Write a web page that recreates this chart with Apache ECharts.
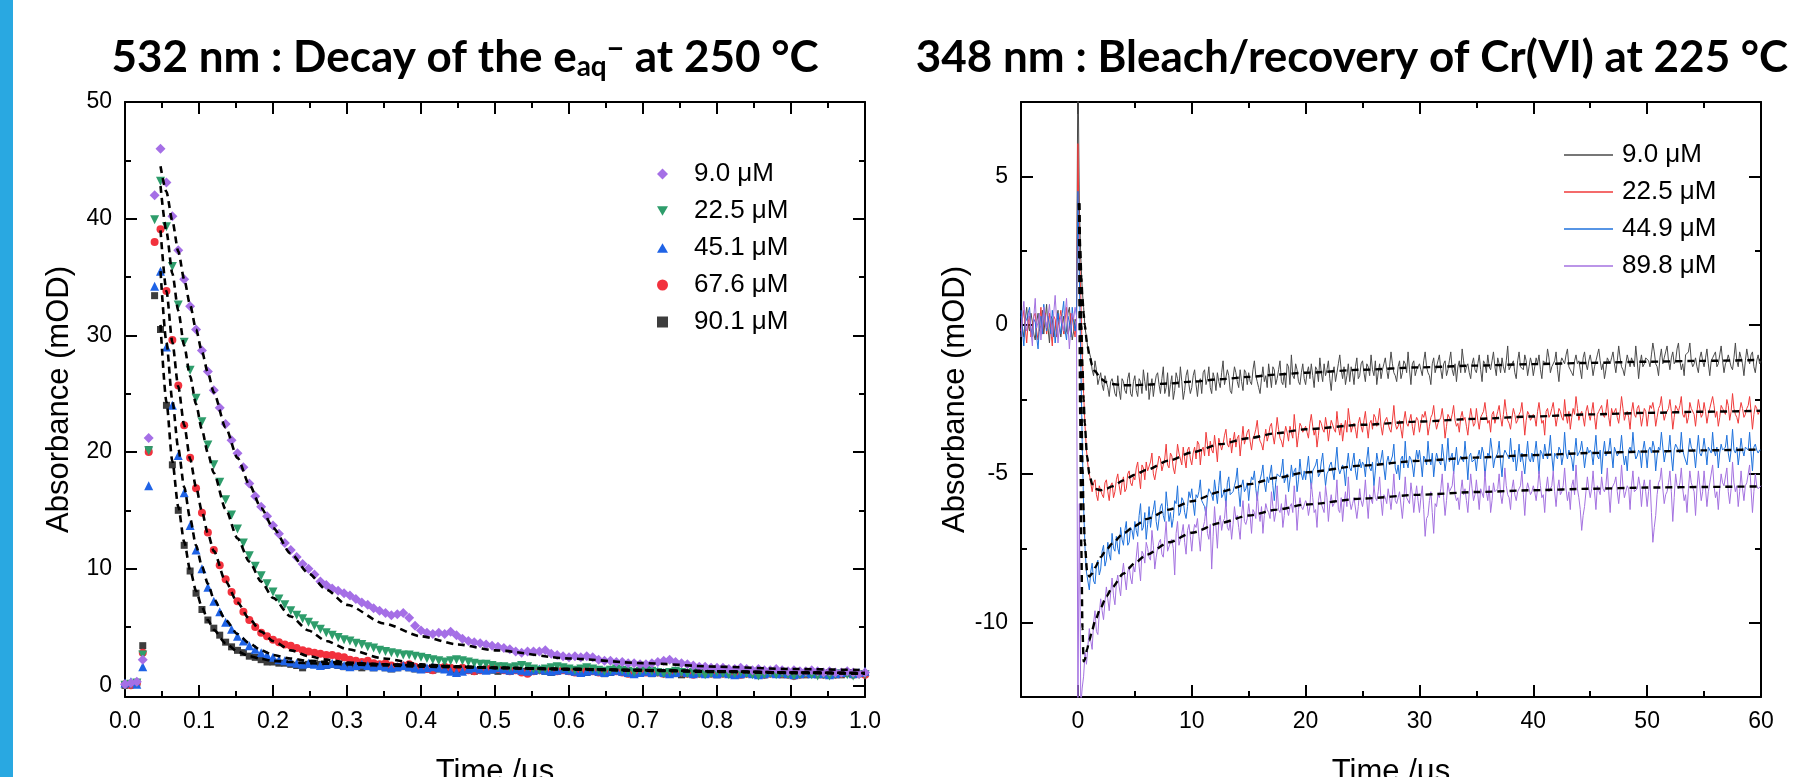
<!DOCTYPE html>
<html><head><meta charset="utf-8">
<script src="https://cdn.jsdelivr.net/npm/echarts@6/dist/echarts.min.js"></script>
<style>html,body{margin:0;padding:0;background:#fff;}#c{width:1809px;height:777px;}</style>
</head><body><div id="c"></div>
<script>
// ---------- Left panel: 532 nm decay (time in us, absorbance in mOD) ----------
const tL = [0,0.008,0.016,0.024,0.032,0.04,0.048,0.056,0.064,0.072,
0.08,0.088,0.096,0.104,0.112,0.12,0.128,0.136,0.144,0.152,
0.16,0.168,0.176,0.184,0.192,0.2,0.208,0.216,0.224,0.232,
0.24,0.248,0.256,0.264,0.272,0.28,0.288,0.296,0.304,0.312,
0.32,0.328,0.336,0.344,0.352,0.36,0.368,0.376,0.384,0.392,
0.4,0.408,0.416,0.424,0.432,0.44,0.448,0.456,0.464,0.472,
0.48,0.488,0.496,0.504,0.512,0.52,0.528,0.536,0.544,0.552,
0.56,0.568,0.576,0.584,0.592,0.6,0.608,0.616,0.624,0.632,
0.64,0.648,0.656,0.664,0.672,0.68,0.688,0.696,0.704,0.712,
0.72,0.728,0.736,0.744,0.752,0.76,0.768,0.776,0.784,0.792,
0.8,0.808,0.816,0.824,0.832,0.84,0.848,0.856,0.864,0.872,
0.88,0.888,0.896,0.904,0.912,0.92,0.928,0.936,0.944,0.952,
0.96,0.968,0.976,0.984,0.992,1.0];
const L_9_0 = [0.1,0.2,0.3,2.2,21.2,42.0,46.0,43.1,40.2,37.3,
34.8,32.5,30.5,28.7,26.9,25.3,23.8,22.4,21.0,19.9,
18.7,17.3,16.2,15.3,14.5,13.7,13.0,12.2,11.6,11.0,
10.4,10.0,9.5,8.9,8.6,8.3,8.1,7.9,7.7,7.4,
7.1,6.9,6.6,6.4,6.2,6.0,6.1,6.2,5.8,5.1,
4.7,4.5,4.4,4.5,4.4,4.6,4.3,4.0,3.8,3.7,
3.6,3.5,3.4,3.3,3.2,3.1,2.9,2.8,2.9,2.9,
2.9,3.0,2.7,2.6,2.5,2.4,2.5,2.4,2.5,2.4,
2.2,2.1,2.1,2.0,2.0,1.9,1.9,1.8,1.8,1.9,
2.0,2.1,2.2,2.0,1.9,1.8,1.7,1.6,1.6,1.5,
1.5,1.5,1.4,1.4,1.5,1.4,1.3,1.4,1.3,1.3,
1.4,1.3,1.2,1.3,1.2,1.2,1.3,1.2,1.1,1.2,
1.1,1.1,1.2,1.1,1.0,1.1];
const L_22_5 = [0.0,0.1,0.2,2.6,20.1,39.9,43.2,39.3,35.9,32.6,
29.4,27.0,24.6,22.6,20.6,18.9,17.4,15.9,14.6,13.4,
12.2,11.1,10.2,9.4,8.7,8.0,7.4,6.9,6.4,6.0,
5.7,5.4,5.1,4.8,4.5,4.3,4.1,3.9,3.8,3.6,
3.5,3.3,3.2,3.0,2.9,2.8,2.7,2.6,2.6,2.5,
2.4,2.3,2.2,2.1,2.0,2.1,2.2,2.1,2.0,1.9,
1.8,1.8,1.7,1.6,1.6,1.5,1.6,1.7,1.6,1.4,
1.3,1.4,1.5,1.6,1.5,1.4,1.3,1.4,1.5,1.4,
1.3,1.2,1.3,1.4,1.3,1.2,1.1,1.2,1.3,1.2,
1.1,1.0,1.1,1.2,1.1,1.0,1.1,1.0,0.9,1.0,
1.1,1.0,0.9,1.0,1.1,1.0,0.9,0.8,0.9,1.0,
0.9,1.0,0.9,0.8,0.9,1.0,0.9,0.8,0.9,0.8,
0.9,1.0,0.9,0.8,0.9,0.9];
const L_45_1 = [0.2,0.3,0.1,1.6,17.1,34.2,35.5,29.0,24.0,19.7,
16.5,13.7,11.6,10.0,8.4,7.2,6.3,5.4,4.8,4.2,
3.8,3.4,3.1,2.8,2.6,2.4,2.2,2.1,2.0,1.9,
1.8,1.9,1.8,1.7,1.8,1.9,1.8,1.7,1.6,1.7,
1.8,1.7,1.6,1.7,1.6,1.5,1.6,1.7,1.6,1.5,
1.4,1.5,1.6,1.5,1.4,1.2,1.1,1.2,1.4,1.5,
1.4,1.3,1.4,1.5,1.4,1.3,1.4,1.3,1.2,1.3,
1.4,1.3,1.2,1.3,1.4,1.3,1.2,1.1,1.2,1.3,
1.2,1.1,1.2,1.3,1.2,1.1,1.0,1.1,1.2,1.1,
1.2,1.1,1.0,1.1,1.2,1.1,1.0,1.1,1.0,1.1,
1.0,1.1,1.0,0.9,1.0,1.1,1.0,0.9,1.0,1.1,
1.0,1.1,1.0,0.9,1.0,1.1,1.0,1.1,1.0,0.9,
1.0,1.1,1.2,1.0,1.1,1.2];
const L_67_6 = [0.1,0.0,0.2,2.8,20.0,38.0,39.1,33.8,29.6,25.7,
22.3,19.5,16.9,14.8,13.1,11.6,10.3,9.1,8.0,7.2,
6.3,5.6,5.0,4.5,4.2,3.9,3.7,3.5,3.4,3.2,
3.0,2.9,2.8,2.7,2.6,2.6,2.5,2.4,2.2,2.1,
2.0,2.1,1.9,1.8,1.9,1.7,1.6,1.7,1.8,1.6,
1.5,1.4,1.3,1.5,1.6,1.5,1.4,1.5,1.3,1.2,
1.3,1.4,1.5,1.4,1.3,1.2,1.3,1.1,1.0,1.2,
1.3,1.4,1.3,1.2,1.3,1.2,1.1,1.2,1.3,1.2,
1.1,1.2,1.3,1.2,1.1,1.0,1.1,1.2,1.1,1.2,
1.1,1.0,1.1,1.2,1.1,1.0,0.9,1.0,1.1,1.0,
1.1,1.0,1.1,1.0,0.9,1.0,1.1,1.0,0.9,1.0,
1.1,1.0,0.9,0.8,0.9,1.0,1.1,1.0,0.9,1.0,
0.9,1.0,1.1,0.9,1.0,0.9];
const L_90_1 = [0.0,0.1,0.2,3.4,20.2,33.4,30.5,24.0,18.9,15.0,
12.0,9.8,7.9,6.5,5.6,4.9,4.3,3.7,3.3,3.0,
2.8,2.5,2.4,2.2,2.0,2.0,1.9,1.9,1.8,1.7,
1.5,1.8,1.9,1.8,1.7,1.8,1.7,1.6,1.7,1.6,
1.5,1.6,1.5,1.6,1.5,1.4,1.5,1.6,1.5,1.4,
1.5,1.4,1.3,1.4,1.5,1.4,1.3,1.4,1.3,1.2,
1.3,1.4,1.3,1.2,1.3,1.2,1.3,1.2,1.1,1.2,
1.3,1.2,1.1,1.2,1.3,1.2,1.1,1.2,1.1,1.2,
1.1,1.0,1.1,1.2,1.1,1.0,1.1,1.2,1.1,1.0,
1.1,1.0,1.1,1.0,0.9,1.0,1.1,1.0,1.1,1.0,
0.9,1.0,1.1,1.0,0.9,1.0,1.1,1.0,0.9,1.0,
1.0,0.9,1.0,1.1,1.0,0.9,1.0,0.9,1.0,1.1,
1.0,0.9,1.0,1.1,1.0,1.0];
// fitted curves (dashed)
const tFitL = [0.048,0.056,0.064,0.072,0.08,0.088,0.096,0.104,0.112,0.12,0.136,0.152,0.168,0.184,0.2,0.224,0.248,0.272,0.3,0.35,0.4,0.45,0.5,0.6,0.7,0.8,0.9,1.0];
const fitL_9_0  = [44.5,42.3,39.8,37.2,34.8,32.6,30.5,28.6,26.8,25.1,22.1,19.5,17.2,15.2,13.5,11.3,9.6,8.2,6.9,5.3,4.2,3.5,3.0,2.3,1.9,1.6,1.4,1.3];
const fitL_22_5 = [42.8,38.9,35.3,32.1,29.1,26.5,24.1,21.9,19.9,18.2,15.1,12.6,10.6,8.9,7.5,5.9,4.7,3.8,3.1,2.3,1.8,1.6,1.5,1.35,1.25,1.15,1.05,1.0];
const fitL_45_1 = [35.5,29.4,24.4,20.3,17.0,14.3,12.0,10.2,8.7,7.4,5.6,4.4,3.6,3.0,2.6,2.3,2.1,2.0,1.9,1.8,1.7,1.6,1.5,1.4,1.3,1.2,1.1,1.05];
const fitL_67_6 = [39.0,33.8,29.4,25.6,22.3,19.4,17.0,14.9,13.0,11.5,8.9,7.1,5.7,4.6,3.8,3.0,2.5,2.2,1.95,1.8,1.7,1.6,1.5,1.4,1.3,1.2,1.1,1.0];
const fitL_90_1 = [30.9,24.3,19.2,15.3,12.3,9.9,8.1,6.7,5.6,4.75,3.6,2.9,2.5,2.26,2.1,2.0,1.9,1.85,1.8,1.7,1.6,1.55,1.5,1.4,1.3,1.2,1.1,1.05];
const leftNames = ['9.0 μM','22.5 μM','45.1 μM','67.6 μM','90.1 μM'];
const leftXTicks = [0,0.1,0.2,0.3,0.4,0.5,0.6,0.7,0.8,0.9,1.0];
const leftXMinor = [0.05,0.15,0.25,0.35,0.45,0.55,0.65,0.75,0.85,0.95];
const leftYTicks = [0,10,20,30,40,50];
const leftYMinor = [5,15,25,35,45];

// ---------- Right panel: 348 nm bleach / recovery (one row = 5 us) ----------
const tR = [
-5,-4.875,-4.75,-4.625,-4.5,-4.375,-4.25,-4.125,-4,-3.875,-3.75,-3.625,-3.5,-3.375,-3.25,-3.125,-3,-2.875,-2.75,-2.625,-2.5,-2.375,-2.25,-2.125,-2,-1.875,-1.75,-1.625,-1.5,-1.375,-1.25,-1.125,-1,-0.875,-0.75,-0.625,-0.5,-0.375,-0.25,-0.125,
0,0.125,0.25,0.375,0.5,0.625,0.75,0.875,1,1.125,1.25,1.375,1.5,1.625,1.75,1.875,2,2.125,2.25,2.375,2.5,2.625,2.75,2.875,3,3.125,3.25,3.375,3.5,3.625,3.75,3.875,4,4.125,4.25,4.375,4.5,4.625,4.75,4.875,
5,5.125,5.25,5.375,5.5,5.625,5.75,5.875,6,6.125,6.25,6.375,6.5,6.625,6.75,6.875,7,7.125,7.25,7.375,7.5,7.625,7.75,7.875,8,8.125,8.25,8.375,8.5,8.625,8.75,8.875,9,9.125,9.25,9.375,9.5,9.625,9.75,9.875,
10,10.125,10.25,10.375,10.5,10.625,10.75,10.875,11,11.125,11.25,11.375,11.5,11.625,11.75,11.875,12,12.125,12.25,12.375,12.5,12.625,12.75,12.875,13,13.125,13.25,13.375,13.5,13.625,13.75,13.875,14,14.125,14.25,14.375,14.5,14.625,14.75,14.875,
15,15.125,15.25,15.375,15.5,15.625,15.75,15.875,16,16.125,16.25,16.375,16.5,16.625,16.75,16.875,17,17.125,17.25,17.375,17.5,17.625,17.75,17.875,18,18.125,18.25,18.375,18.5,18.625,18.75,18.875,19,19.125,19.25,19.375,19.5,19.625,19.75,19.875,
20,20.125,20.25,20.375,20.5,20.625,20.75,20.875,21,21.125,21.25,21.375,21.5,21.625,21.75,21.875,22,22.125,22.25,22.375,22.5,22.625,22.75,22.875,23,23.125,23.25,23.375,23.5,23.625,23.75,23.875,24,24.125,24.25,24.375,24.5,24.625,24.75,24.875,
25,25.125,25.25,25.375,25.5,25.625,25.75,25.875,26,26.125,26.25,26.375,26.5,26.625,26.75,26.875,27,27.125,27.25,27.375,27.5,27.625,27.75,27.875,28,28.125,28.25,28.375,28.5,28.625,28.75,28.875,29,29.125,29.25,29.375,29.5,29.625,29.75,29.875,
30,30.125,30.25,30.375,30.5,30.625,30.75,30.875,31,31.125,31.25,31.375,31.5,31.625,31.75,31.875,32,32.125,32.25,32.375,32.5,32.625,32.75,32.875,33,33.125,33.25,33.375,33.5,33.625,33.75,33.875,34,34.125,34.25,34.375,34.5,34.625,34.75,34.875,
35,35.125,35.25,35.375,35.5,35.625,35.75,35.875,36,36.125,36.25,36.375,36.5,36.625,36.75,36.875,37,37.125,37.25,37.375,37.5,37.625,37.75,37.875,38,38.125,38.25,38.375,38.5,38.625,38.75,38.875,39,39.125,39.25,39.375,39.5,39.625,39.75,39.875,
40,40.125,40.25,40.375,40.5,40.625,40.75,40.875,41,41.125,41.25,41.375,41.5,41.625,41.75,41.875,42,42.125,42.25,42.375,42.5,42.625,42.75,42.875,43,43.125,43.25,43.375,43.5,43.625,43.75,43.875,44,44.125,44.25,44.375,44.5,44.625,44.75,44.875,
45,45.125,45.25,45.375,45.5,45.625,45.75,45.875,46,46.125,46.25,46.375,46.5,46.625,46.75,46.875,47,47.125,47.25,47.375,47.5,47.625,47.75,47.875,48,48.125,48.25,48.375,48.5,48.625,48.75,48.875,49,49.125,49.25,49.375,49.5,49.625,49.75,49.875,
50,50.125,50.25,50.375,50.5,50.625,50.75,50.875,51,51.125,51.25,51.375,51.5,51.625,51.75,51.875,52,52.125,52.25,52.375,52.5,52.625,52.75,52.875,53,53.125,53.25,53.375,53.5,53.625,53.75,53.875,54,54.125,54.25,54.375,54.5,54.625,54.75,54.875,
55,55.125,55.25,55.375,55.5,55.625,55.75,55.875,56,56.125,56.25,56.375,56.5,56.625,56.75,56.875,57,57.125,57.25,57.375,57.5,57.625,57.75,57.875,58,58.125,58.25,58.375,58.5,58.625,58.75,58.875,59,59.125,59.25,59.375,59.5,59.625,59.75,59.875,
60];
const R_9_0 = [
0.3,-0.1,-0.4,0.2,0.6,0.0,-0.2,0.4,0.1,-0.3,-0.5,0.1,0.4,-0.2,0.0,0.5,-0.3,0.2,0.7,-0.1,-0.6,0.3,0.2,-0.4,-0.1,0.2,0.5,-0.1,-0.4,0.0,0.3,-0.3,-0.2,0.4,0.6,0.0,-0.5,-0.2,0.2,0.1,
9.0,4.0,2.3,1.2,0.6,-0.1,-0.4,-0.8,-0.9,-1.1,-1.5,-1.7,-1.2,-1.5,-2.0,-1.8,-1.6,-2.0,-2.2,-1.7,-1.7,-2.1,-2.4,-1.9,-1.8,-2.0,-2.3,-2.4,-1.7,-2.2,-2.5,-1.8,-1.9,-2.2,-2.3,-1.8,-1.6,-2.3,-2.4,-1.9,
-1.7,-2.2,-2.4,-1.8,-1.9,-2.3,-1.5,-1.9,-2.2,-1.6,-2.5,-2.1,-1.8,-2.4,-2.0,-1.7,-1.6,-2.0,-2.3,-1.8,-1.4,-2.3,-2.1,-1.6,-2.4,-2.0,-1.7,-2.5,-2.2,-1.6,-1.8,-2.1,-1.4,-1.9,-2.5,-2.2,-1.7,-1.5,-2.0,-2.3,
-2.1,-1.7,-1.5,-2.0,-2.4,-1.9,-1.8,-2.3,-1.6,-1.5,-2.0,-1.8,-1.4,-2.1,-2.3,-1.6,-1.8,-2.2,-1.6,-1.9,-2.1,-1.6,-1.2,-2.0,-2.0,-1.5,-1.7,-2.2,-2.3,-1.8,-1.4,-1.6,-1.9,-2.1,-1.5,-1.9,-2.2,-1.5,-1.6,-2.0,
-1.6,-1.9,-2.0,-1.5,-1.2,-1.7,-1.9,-2.1,-2.3,-1.8,-1.4,-1.9,-1.7,-2.1,-1.3,-1.7,-2.1,-1.4,-1.5,-2.0,-1.8,-1.5,-1.2,-1.9,-2.0,-1.6,-2.1,-1.3,-1.4,-2.0,-1.0,-1.7,-1.8,-1.3,-1.5,-1.9,-2.0,-1.6,-1.3,-1.8,
-2.0,-1.6,-1.4,-1.8,-1.3,-1.7,-2.1,-1.4,-1.5,-1.9,-1.1,-1.6,-1.9,-1.3,-1.7,-1.5,-1.2,-1.8,-2.2,-1.6,-1.4,-1.9,-1.6,-1.3,-1.0,-1.5,-1.8,-1.4,-2.0,-1.7,-1.3,-1.9,-1.4,-1.6,-2.0,-1.4,-1.1,-1.8,-1.7,-1.3,
-1.2,-1.6,-1.9,-1.3,-1.4,-1.7,-1.0,-1.5,-1.7,-1.2,-2.0,-1.6,-1.3,-1.8,-1.5,-1.3,-1.1,-1.5,-1.8,-1.4,-0.9,-1.3,-1.6,-1.7,-1.9,-1.4,-1.2,-1.8,-1.6,-1.2,-1.3,-1.6,-0.9,-1.5,-2.0,-1.3,-1.2,-1.7,-1.5,-1.4,
-1.3,-1.5,-1.7,-1.2,-0.9,-1.4,-1.6,-1.7,-2.0,-1.3,-1.1,-1.6,-1.4,-1.2,-1.0,-1.5,-1.8,-1.3,-1.2,-1.7,-1.5,-1.2,-0.9,-1.5,-1.7,-1.3,-1.9,-1.4,-1.2,-1.6,-0.8,-1.2,-1.6,-1.4,-1.3,-1.6,-1.8,-1.3,-1.1,-1.5,
-1.6,-1.3,-1.0,-1.5,-1.9,-1.2,-1.3,-1.6,-1.0,-1.4,-1.5,-1.2,-0.9,-1.4,-1.7,-1.1,-1.3,-1.6,-1.1,-1.4,-1.6,-1.2,-0.7,-1.5,-1.5,-1.3,-1.2,-1.6,-1.8,-1.2,-0.9,-1.4,-1.4,-1.5,-1.0,-1.2,-1.7,-1.4,-1.1,-1.3,
-1.7,-1.4,-1.1,-1.3,-1.0,-1.5,-1.8,-1.2,-1.2,-1.3,-0.8,-1.1,-1.6,-1.4,-1.4,-1.2,-0.9,-1.5,-1.9,-1.3,-1.1,-1.2,-1.3,-1.0,-0.8,-1.4,-1.5,-1.6,-1.7,-1.2,-1.0,-1.3,-1.2,-1.5,-1.8,-1.1,-0.9,-1.3,-1.5,-1.2,
-1.0,-1.3,-1.7,-1.4,-1.2,-1.0,-0.8,-1.2,-1.5,-1.3,-1.8,-1.5,-1.1,-1.2,-1.3,-1.1,-0.9,-1.3,-1.6,-1.2,-0.7,-1.1,-1.4,-1.5,-1.7,-1.3,-1.0,-1.2,-1.4,-1.1,-1.1,-1.4,-0.7,-1.2,-1.8,-1.3,-1.0,-1.4,-1.3,-1.1,
-1.1,-1.2,-1.4,-1.0,-0.6,-0.9,-1.3,-1.4,-1.7,-1.1,-0.8,-1.3,-1.1,-0.9,-0.7,-1.2,-1.5,-1.1,-0.9,-1.3,-1.2,-0.8,-0.6,-1.2,-1.5,-1.3,-1.7,-1.0,-1.0,-0.9,-0.6,-1.2,-1.4,-1.3,-1.1,-1.4,-1.6,-1.1,-0.9,-1.2,
-1.4,-1.1,-0.8,-1.3,-1.7,-1.2,-1.1,-1.0,-0.9,-1.4,-1.3,-1.0,-0.7,-1.2,-1.6,-1.3,-1.2,-1.0,-1.0,-1.4,-1.5,-1.1,-0.6,-1.2,-1.4,-0.9,-1.1,-1.3,-1.7,-1.2,-0.8,-1.1,-1.3,-1.0,-0.9,-1.4,-1.6,-1.2,-1.0,-1.3,
-1.2];
const R_22_5 = [
-0.2,0.2,0.5,-0.1,-0.6,0.1,0.3,-0.4,-0.1,0.3,0.4,-0.2,-0.5,0.0,0.6,-0.3,0.1,0.4,-0.3,0.1,0.4,-0.2,-0.7,0.3,0.2,-0.4,0.0,0.2,0.5,0.1,-0.3,0.2,0.6,-0.3,-0.1,0.4,0.3,-0.1,-0.4,0.3,
6.1,2.6,1.0,-0.9,-2.3,-3.4,-4.2,-4.7,-5.0,-5.3,-5.6,-5.3,-5.2,-5.7,-5.9,-5.4,-5.4,-5.7,-5.8,-5.3,-5.2,-5.6,-5.9,-5.4,-5.3,-5.8,-5.6,-5.2,-5.0,-5.4,-5.7,-5.3,-5.1,-5.6,-5.5,-5.0,-4.9,-5.3,-5.4,-5.1,
-5.2,-4.8,-4.6,-5.1,-5.5,-4.7,-4.8,-5.2,-4.6,-4.9,-4.9,-4.6,-4.3,-5.0,-5.2,-4.9,-4.7,-4.4,-4.5,-4.9,-4.9,-4.5,-4.0,-4.7,-4.8,-4.3,-4.4,-4.8,-5.0,-4.6,-4.0,-4.3,-4.5,-4.7,-4.1,-4.5,-4.8,-4.2,-4.1,-4.5,
-4.7,-4.3,-4.1,-4.5,-3.9,-4.0,-4.7,-4.2,-4.1,-4.4,-3.6,-4.0,-4.4,-3.9,-4.2,-4.3,-3.7,-4.1,-4.6,-3.8,-3.8,-4.2,-4.0,-3.7,-3.5,-4.0,-4.1,-3.8,-4.3,-3.9,-3.6,-4.1,-3.8,-3.7,-4.4,-3.9,-3.4,-4.0,-4.0,-3.6,
-3.5,-3.9,-4.2,-3.8,-3.7,-3.5,-3.2,-3.7,-3.9,-4.0,-4.2,-3.8,-3.5,-3.9,-3.7,-3.4,-3.3,-3.7,-4.0,-3.6,-3.1,-3.5,-3.8,-3.9,-4.1,-3.7,-3.4,-3.6,-3.9,-3.4,-3.6,-3.8,-3.0,-3.5,-4.1,-3.7,-3.3,-3.4,-3.6,-3.6,
-3.4,-3.6,-3.8,-3.3,-3.0,-3.4,-3.7,-3.5,-4.1,-3.7,-3.2,-3.3,-3.5,-3.6,-3.1,-3.4,-3.9,-3.5,-3.2,-3.2,-3.5,-3.6,-2.9,-3.4,-3.7,-3.3,-3.9,-3.5,-3.2,-3.6,-2.8,-3.2,-3.6,-3.4,-3.3,-3.5,-3.8,-3.3,-3.1,-3.4,
-3.6,-3.2,-2.9,-3.4,-3.8,-3.3,-3.2,-3.5,-3.0,-3.1,-3.4,-3.2,-2.8,-3.4,-3.7,-3.3,-3.3,-3.1,-3.1,-3.5,-3.6,-3.2,-2.7,-3.3,-3.5,-3.4,-3.2,-3.5,-3.8,-3.2,-2.9,-3.3,-3.4,-3.2,-3.0,-3.4,-3.7,-3.3,-3.1,-3.2,
-3.6,-3.3,-3.0,-3.1,-2.9,-3.2,-3.7,-3.4,-3.1,-3.0,-2.7,-3.2,-3.5,-3.3,-3.3,-3.1,-2.8,-3.2,-3.8,-3.4,-3.0,-3.1,-3.2,-3.0,-2.7,-3.2,-3.4,-3.3,-3.6,-3.1,-2.9,-3.2,-3.1,-3.4,-3.7,-3.2,-2.8,-3.1,-3.4,-3.3,
-2.8,-3.2,-3.5,-3.1,-3.0,-2.9,-2.6,-3.0,-3.3,-3.2,-3.6,-3.0,-2.9,-3.3,-3.1,-2.9,-2.7,-3.1,-3.4,-3.0,-2.5,-2.9,-3.2,-3.3,-3.5,-3.1,-2.8,-3.0,-3.3,-3.2,-3.0,-2.9,-2.6,-3.1,-3.7,-3.2,-2.9,-3.0,-3.2,-3.1,
-3.0,-3.1,-3.4,-2.9,-2.6,-3.0,-3.3,-3.2,-3.7,-2.9,-2.8,-3.1,-3.0,-2.8,-2.6,-3.0,-3.4,-3.1,-2.8,-2.9,-3.1,-3.2,-2.5,-3.0,-3.3,-2.9,-3.5,-3.1,-2.8,-3.0,-2.4,-2.8,-3.2,-3.0,-2.9,-3.1,-3.4,-2.9,-2.7,-3.0,
-3.2,-2.9,-2.6,-3.1,-3.5,-3.0,-2.9,-2.8,-2.7,-3.0,-3.1,-2.9,-2.5,-3.1,-3.4,-2.8,-3.0,-3.0,-2.8,-3.1,-3.3,-2.9,-2.4,-2.8,-3.2,-3.0,-2.9,-3.1,-3.5,-2.9,-2.6,-3.0,-3.1,-2.8,-2.7,-3.0,-3.4,-3.1,-2.8,-2.9,
-3.4,-3.0,-2.7,-2.8,-2.6,-2.9,-3.4,-3.1,-2.8,-2.7,-2.4,-2.9,-3.2,-3.0,-3.0,-2.8,-2.5,-2.9,-3.5,-3.1,-2.7,-2.8,-2.9,-2.7,-2.4,-3.0,-3.1,-2.9,-3.3,-3.1,-2.6,-2.8,-2.8,-3.0,-3.4,-2.9,-2.5,-2.8,-3.1,-3.0,
-2.6,-2.9,-3.3,-3.0,-2.8,-2.8,-2.4,-2.7,-3.1,-2.9,-3.4,-3.1,-2.7,-2.8,-2.9,-3.0,-2.5,-2.7,-3.2,-2.9,-2.3,-2.8,-3.0,-3.1,-3.3,-2.9,-2.6,-2.8,-3.1,-3.0,-2.8,-2.7,-2.4,-2.9,-3.5,-3.0,-2.7,-2.8,-3.0,-2.9,
-2.9];
const R_44_9 = [
0.5,-0.2,-0.7,0.1,0.2,0.4,0.6,-0.1,-0.4,0.2,0.1,-0.4,-0.8,0.0,0.3,-0.3,0.7,0.2,-0.2,0.3,0.0,-0.3,0.5,0.1,-0.6,-0.1,0.4,0.0,-0.3,0.4,0.8,-0.2,-0.5,0.3,0.1,-0.4,0.6,0.1,-0.2,0.2,
4.5,1.6,-1.2,-3.9,-6.1,-7.5,-8.3,-8.6,-8.9,-8.3,-8.0,-8.6,-8.7,-8.1,-7.9,-8.4,-8.2,-7.6,-7.4,-8.1,-7.9,-7.3,-7.7,-7.9,-7.0,-7.5,-7.6,-7.1,-7.5,-7.7,-6.8,-7.2,-7.4,-6.9,-6.6,-7.4,-7.3,-6.8,-6.9,-7.2,
-6.6,-6.9,-7.1,-6.4,-6.0,-6.9,-6.8,-6.3,-7.2,-6.7,-6.1,-6.8,-6.4,-6.2,-5.9,-6.6,-6.9,-6.5,-6.1,-6.0,-6.4,-6.6,-5.6,-6.1,-6.6,-6.3,-6.8,-6.5,-5.9,-6.0,-5.4,-6.4,-6.3,-5.8,-5.9,-6.3,-6.5,-6.1,-5.6,-5.8,
-5.5,-6.0,-6.4,-5.7,-5.8,-5.6,-5.2,-5.9,-6.0,-6.1,-6.4,-5.8,-5.5,-5.5,-5.7,-5.9,-5.2,-5.6,-6.0,-5.4,-4.9,-5.8,-5.7,-5.5,-6.1,-5.3,-5.1,-5.7,-5.7,-5.6,-5.4,-5.2,-4.8,-5.6,-6.1,-5.4,-5.2,-5.6,-5.5,-5.3,
-5.9,-5.4,-5.1,-5.2,-4.9,-5.5,-5.9,-5.4,-5.2,-5.0,-4.7,-5.3,-5.6,-5.1,-5.3,-5.0,-4.7,-5.4,-5.9,-5.3,-5.0,-5.0,-5.1,-4.9,-4.5,-5.3,-5.3,-5.0,-5.6,-5.2,-4.7,-5.1,-4.9,-4.8,-5.6,-5.2,-4.5,-5.0,-5.2,-4.9,
-5.2,-4.8,-4.4,-5.0,-5.5,-4.9,-4.8,-4.7,-4.5,-5.1,-5.0,-4.6,-4.3,-4.9,-5.4,-5.0,-4.9,-4.7,-4.6,-4.9,-5.2,-4.6,-4.1,-4.8,-5.0,-5.0,-4.7,-4.9,-5.4,-4.7,-4.3,-4.8,-4.9,-4.6,-4.3,-4.9,-5.2,-4.7,-4.5,-4.8,
-4.6,-4.7,-5.1,-4.5,-4.1,-4.8,-4.9,-4.6,-5.4,-4.9,-4.3,-4.6,-4.7,-4.5,-4.2,-4.8,-5.2,-4.6,-4.4,-4.7,-4.7,-4.4,-4.0,-4.8,-5.0,-4.7,-5.2,-4.5,-4.4,-4.8,-3.9,-4.6,-4.8,-4.4,-4.5,-4.7,-5.1,-4.6,-4.2,-4.5,
-4.2,-4.6,-5.1,-4.4,-4.5,-4.7,-3.9,-4.5,-4.7,-4.3,-5.1,-4.6,-4.3,-4.5,-4.5,-4.7,-4.0,-4.4,-4.9,-4.5,-3.8,-4.6,-4.6,-4.3,-5.0,-4.5,-4.1,-4.7,-4.7,-4.4,-4.4,-4.6,-3.9,-4.5,-5.2,-4.4,-4.3,-4.6,-4.6,-4.5,
-4.9,-4.4,-4.2,-4.5,-4.1,-4.3,-5.1,-4.6,-4.3,-4.4,-3.8,-4.2,-4.8,-4.5,-4.5,-4.3,-3.9,-4.6,-5.1,-4.4,-4.2,-4.3,-4.4,-4.5,-3.8,-4.4,-4.6,-4.2,-4.9,-4.5,-4.0,-4.6,-4.3,-4.3,-5.0,-4.4,-3.9,-4.5,-4.6,-4.3,
-4.6,-4.3,-3.9,-4.4,-5.0,-4.2,-4.3,-4.5,-4.0,-4.3,-4.5,-4.2,-3.7,-4.4,-4.9,-4.3,-4.4,-4.5,-4.1,-4.2,-4.7,-4.4,-3.6,-4.3,-4.5,-4.2,-4.2,-4.5,-4.9,-4.3,-3.8,-4.4,-4.4,-4.2,-3.9,-4.3,-4.8,-4.4,-4.1,-4.3,
-4.2,-4.3,-4.7,-4.2,-3.7,-4.4,-4.5,-4.2,-5.0,-4.3,-3.9,-4.4,-4.3,-4.2,-3.8,-4.3,-4.8,-4.1,-4.1,-4.4,-4.4,-4.2,-3.7,-4.3,-4.7,-4.4,-4.9,-4.2,-4.1,-4.3,-3.6,-4.2,-4.5,-4.4,-4.2,-4.3,-4.8,-4.2,-3.9,-4.3,
-4.8,-4.2,-4.1,-4.3,-3.9,-4.1,-4.9,-4.4,-4.1,-4.2,-3.6,-4.1,-4.6,-4.3,-4.3,-4.2,-3.7,-4.4,-4.9,-4.2,-4.0,-4.1,-4.2,-4.3,-3.6,-4.2,-4.4,-4.4,-4.7,-4.2,-3.8,-4.1,-4.1,-4.3,-4.8,-4.2,-3.7,-4.3,-4.4,-4.2,
-3.8,-4.2,-4.7,-4.1,-4.1,-4.3,-3.6,-4.2,-4.4,-4.1,-4.8,-4.3,-4.0,-4.2,-4.2,-4.1,-3.7,-4.3,-4.6,-4.2,-3.5,-4.2,-4.3,-4.1,-4.7,-4.3,-3.8,-4.2,-4.4,-4.1,-4.1,-4.2,-3.6,-4.3,-4.9,-4.1,-4.0,-4.2,-4.3,-4.2,
-4.2];
const R_89_8 = [
-0.4,0.3,0.8,0.1,-0.2,0.2,0.5,-0.2,-0.7,0.3,0.9,-0.1,0.1,0.4,-0.5,0.1,0.6,0.2,-0.1,0.3,0.7,0.1,-0.4,0.4,1.0,0.2,-0.6,0.0,0.3,0.3,-0.2,0.4,0.9,0.0,-0.8,-0.1,0.4,0.2,0.6,0.3,
-13.0,-6.0,-12.8,-12.2,-11.8,-11.0,-11.4,-10.8,-10.2,-10.6,-10.9,-10.0,-9.6,-10.3,-10.4,-9.7,-9.2,-9.6,-9.9,-9.3,-8.8,-9.2,-9.6,-9.0,-8.5,-9.1,-9.4,-8.7,-8.4,-8.8,-9.1,-8.4,-8.0,-8.5,-8.9,-8.3,-8.1,-8.5,-8.7,-8.1,
-8.3,-7.8,-7.3,-8.1,-8.6,-7.6,-7.7,-8.0,-7.3,-7.5,-7.8,-7.9,-6.9,-7.4,-8.2,-7.8,-7.5,-7.3,-7.2,-7.7,-7.8,-7.2,-6.6,-7.6,-7.6,-7.3,-7.2,-7.5,-8.4,-7.0,-6.6,-7.4,-7.2,-7.0,-6.7,-7.3,-7.7,-6.9,-6.7,-7.1,
-7.6,-7.0,-6.7,-6.8,-6.5,-7.1,-7.6,-6.9,-6.8,-6.6,-6.1,-7.0,-7.2,-6.7,-8.2,-7.1,-6.1,-6.8,-7.5,-6.6,-6.4,-6.9,-6.6,-6.5,-5.9,-6.8,-6.9,-6.6,-7.2,-6.7,-6.1,-6.5,-6.4,-6.8,-7.2,-6.4,-5.9,-6.6,-6.7,-6.5,
-6.0,-6.4,-7.0,-6.2,-6.3,-6.5,-5.6,-6.3,-6.6,-6.1,-7.0,-6.4,-6.0,-6.2,-6.3,-6.5,-5.6,-6.1,-6.6,-6.3,-5.4,-6.2,-6.3,-6.0,-6.8,-6.4,-5.7,-6.2,-6.4,-6.1,-6.0,-6.3,-5.4,-6.0,-6.9,-6.2,-5.8,-6.1,-6.2,-6.2,
-5.9,-6.0,-6.4,-6.1,-5.3,-5.8,-6.3,-6.2,-6.8,-5.9,-5.6,-6.0,-6.0,-6.3,-5.4,-5.8,-6.6,-6.0,-5.7,-6.1,-6.0,-5.9,-5.2,-6.2,-6.3,-5.8,-6.6,-6.0,-5.6,-6.1,-5.1,-5.9,-6.2,-6.0,-5.8,-5.8,-6.5,-6.1,-5.5,-5.9,
-6.1,-5.8,-5.2,-5.9,-6.5,-5.7,-5.7,-6.0,-5.4,-5.8,-5.9,-5.6,-5.1,-5.9,-6.4,-5.7,-5.8,-6.0,-5.5,-5.8,-6.2,-5.7,-5.0,-5.9,-6.0,-5.8,-5.6,-5.6,-6.5,-5.9,-5.1,-5.8,-5.8,-6.0,-5.3,-5.7,-6.3,-5.8,-5.4,-5.9,
-6.3,-5.8,-5.4,-6.2,-7.1,-6.5,-6.4,-5.9,-5.6,-6.3,-7.0,-6.0,-6.1,-5.7,-5.8,-5.5,-5.0,-5.8,-6.4,-5.9,-5.3,-5.6,-5.6,-5.4,-4.9,-5.7,-5.9,-5.8,-6.2,-5.6,-5.2,-5.7,-5.5,-5.9,-6.3,-5.6,-5.0,-5.5,-5.9,-5.7,
-5.2,-5.7,-6.2,-5.5,-5.5,-5.8,-4.9,-5.6,-5.9,-5.4,-6.3,-5.9,-5.3,-5.6,-5.6,-5.5,-5.0,-5.7,-6.0,-5.6,-4.8,-5.4,-5.7,-5.8,-6.2,-5.5,-5.2,-5.7,-5.9,-5.6,-5.5,-5.4,-4.9,-5.7,-6.4,-5.6,-5.3,-5.5,-5.7,-5.6,
-5.4,-5.6,-5.9,-5.5,-4.9,-5.4,-5.8,-5.7,-6.3,-5.5,-5.1,-5.6,-5.5,-5.4,-4.9,-5.6,-6.1,-5.5,-5.2,-5.7,-5.6,-5.4,-4.8,-5.5,-5.9,-5.6,-6.2,-5.4,-5.2,-5.7,-4.7,-5.5,-5.8,-6.2,-6.9,-6.4,-6.1,-5.6,-5.1,-5.5,
-5.8,-5.5,-4.9,-5.6,-6.2,-5.4,-5.4,-5.7,-5.1,-5.5,-5.6,-5.4,-4.8,-5.6,-6.3,-5.5,-5.5,-5.3,-5.1,-5.6,-6.0,-5.5,-4.7,-5.4,-5.8,-5.6,-5.4,-5.5,-6.2,-5.4,-4.9,-5.6,-5.6,-5.5,-5.1,-5.4,-6.1,-5.5,-5.2,-5.6,
-6.1,-5.6,-5.2,-6.3,-7.3,-6.8,-6.4,-5.7,-5.3,-5.2,-4.8,-5.5,-6.0,-5.7,-5.6,-5.3,-4.9,-5.6,-6.6,-5.8,-5.0,-5.4,-5.5,-5.3,-4.8,-5.5,-5.9,-5.7,-6.3,-5.5,-4.9,-5.3,-5.3,-5.6,-6.4,-5.5,-4.9,-5.4,-5.9,-5.6,
-4.9,-5.5,-6.1,-5.6,-5.3,-5.3,-4.7,-5.4,-5.8,-5.6,-6.2,-5.5,-5.0,-5.3,-5.4,-5.4,-4.8,-5.6,-6.0,-5.5,-4.6,-5.3,-5.6,-5.4,-6.1,-5.6,-4.9,-5.5,-5.9,-5.4,-5.3,-5.3,-4.7,-5.5,-6.3,-5.6,-5.0,-5.4,-5.5,-5.5,
-5.4];
const tFitR = [0.1,0.2,0.3,0.4,0.5,0.6,0.8,1.0,1.25,1.5,2,2.5,3,4,5,6,8,10,12.5,15,17.5,20,25,30,35,40,45,50,55,60];
const fitR_9_0  = [4.1,2.6,1.6,0.9,0.4,0.0,-0.6,-1.0,-1.35,-1.55,-1.8,-1.92,-1.98,-2.02,-2.02,-2.0,-1.96,-1.9,-1.82,-1.74,-1.66,-1.6,-1.5,-1.42,-1.36,-1.31,-1.27,-1.23,-1.2,-1.17];
const fitR_22_5 = [4.1,1.8,0.0,-1.4,-2.5,-3.3,-4.4,-5.0,-5.35,-5.5,-5.55,-5.5,-5.42,-5.22,-5.03,-4.87,-4.55,-4.28,-4.0,-3.8,-3.63,-3.5,-3.35,-3.24,-3.15,-3.07,-3.0,-2.95,-2.91,-2.88];
const fitR_44_9 = [4.1,0.5,-2.6,-4.8,-6.3,-7.3,-8.25,-8.45,-8.35,-8.15,-7.8,-7.55,-7.35,-7.0,-6.75,-6.52,-6.2,-5.92,-5.6,-5.35,-5.13,-4.95,-4.72,-4.56,-4.45,-4.37,-4.3,-4.25,-4.21,-4.18];
const fitR_89_8 = [4.1,-3.0,-7.5,-10.2,-11.3,-11.25,-10.9,-10.6,-10.25,-9.95,-9.5,-9.12,-8.82,-8.35,-8.0,-7.72,-7.3,-6.98,-6.65,-6.4,-6.2,-6.03,-5.83,-5.7,-5.61,-5.55,-5.5,-5.46,-5.44,-5.42];
const rightNames = ['9.0 μM','22.5 μM','44.9 μM','89.8 μM'];
const rightXTicks = [0,10,20,30,40,50,60];
const rightXMinor = [-5,5,15,25,35,45,55];
const rightYTicks = [-10,-5,0,5];
const rightYMinor = [-7.5,-2.5,2.5];

// ---------- build ----------
const FONT = '"Liberation Sans", Arial, sans-serif';
const pairs = (xs, ys) => ys.slice(0, xs.length).map((y, i) => [xs[i], y]);
const tickLS = {color: '#000', width: 2};

function axisSet(dim, grid, min, max, majors, minors, fmt, name, nameGap) {
  const sides = dim === 'x' ? ['bottom', 'top'] : ['left', 'right'];
  const common = {type: 'value', gridIndex: grid, min: min, max: max, splitLine: {show: false}, axisPointer: {show: false}};
  const nameStyle = dim === 'x'
    ? {color: '#000', fontSize: 31, fontFamily: FONT, verticalAlign: 'top', lineHeight: 31}
    : {color: '#000', fontSize: 31, fontFamily: FONT};
  const out = [];
  sides.forEach((pos, si) => {
    out.push(Object.assign({}, common, {
      position: pos,
      axisLine: {show: true, onZero: false, lineStyle: {color: '#000', width: 2}},
      axisTick: {show: true, inside: true, length: 12, customValues: majors, lineStyle: tickLS},
      axisLabel: si === 0 ? {show: true, customValues: majors, formatter: fmt, margin: 13,
        color: '#000', fontSize: 23, fontFamily: FONT} : {show: false},
      name: si === 0 ? name : '', nameLocation: 'middle', nameGap: nameGap, nameMoveOverlap: false,
      nameTextStyle: nameStyle
    }));
    out.push(Object.assign({}, common, {
      position: pos,
      axisLine: {show: false, onZero: false},
      axisTick: {show: true, inside: true, length: 6, customValues: minors, lineStyle: tickLS},
      axisLabel: {show: false}
    }));
  });
  return out;
}

const xAxes = [].concat(
  axisSet('x', 0, 0, 1, leftXTicks, leftXMinor, v => v.toFixed(1), 'Time /μs', 60),
  axisSet('x', 1, -5, 60, rightXTicks, rightXMinor, v => String(v), 'Time /μs', 60)
);
const yAxes = [].concat(
  axisSet('y', 0, -1, 50, leftYTicks, leftYMinor, v => String(v), 'Absorbance (mOD)', 50),
  axisSet('y', 1, -12.5, 7.5, rightYTicks, rightYMinor, v => String(v), 'Absorbance (mOD)', 50)
);

const TRI_DOWN = 'path://M0,0 L10,0 L5,8.66 Z';
const TRI_UP = 'path://M5,0 L10,8.66 L0,8.66 Z';
const scat = (name, ys, symbol, size, color) => ({
  type: 'scatter', name: name, xAxisIndex: 0, yAxisIndex: 0, data: pairs(tL, ys),
  symbol: symbol, symbolSize: size, itemStyle: {color: color, opacity: 1}, silent: true, z: 2
});
const fitLine = (name, xi, xs, ys, w) => ({
  type: 'line', name: name, xAxisIndex: xi, yAxisIndex: xi, data: pairs(xs, ys),
  symbol: 'none', smooth: 0.25, smoothMonotone: 'x',
  lineStyle: {color: '#000', width: w, type: [7, 5]}, silent: true, z: 5
});
const trace = (name, ys, color) => ({
  type: 'line', name: name, xAxisIndex: 4, yAxisIndex: 4, data: pairs(tR, ys),
  symbol: 'none', lineStyle: {color: color, width: 1}, itemStyle: {color: color}, silent: true, z: 2
});

const series = [
  scat(leftNames[4], L_90_1, 'rect', 7, '#3d3d3d'),
  scat(leftNames[3], L_67_6, 'circle', 8, '#f2313d'),
  scat(leftNames[2], L_45_1, TRI_UP, 9, '#1f63e6'),
  scat(leftNames[1], L_22_5, TRI_DOWN, 9, '#2e9d6b'),
  scat(leftNames[0], L_9_0, 'diamond', 10, '#a56fe6'),
  fitLine('fit90', 0, tFitL, fitL_90_1, 2.6),
  fitLine('fit67', 0, tFitL, fitL_67_6, 2.6),
  fitLine('fit45', 0, tFitL, fitL_45_1, 2.6),
  fitLine('fit22', 0, tFitL, fitL_22_5, 2.6),
  fitLine('fit9', 0, tFitL, fitL_9_0, 2.6),
  trace('R' + rightNames[0], R_9_0, '#4a4a4a'),
  trace('R' + rightNames[1], R_22_5, '#f03a3a'),
  trace('R' + rightNames[2], R_44_9, '#1f72dd'),
  trace('R' + rightNames[3], R_89_8, '#a472e0'),
  fitLine('rfit9', 4, tFitR, fitR_9_0, 2.4),
  fitLine('rfit22', 4, tFitR, fitR_22_5, 2.4),
  fitLine('rfit44', 4, tFitR, fitR_44_9, 2.4),
  fitLine('rfit89', 4, tFitR, fitR_89_8, 2.4)
];

const TF = {fontFamily: 'Lato', fontWeight: 'bold', color: '#000'};
const titleRich = {
  sub: Object.assign({}, TF, {fontSize: 28, lineHeight: 28, padding: [18, 0, 0, 0]}),
  sup: Object.assign({}, TF, {fontSize: 30, lineHeight: 30, padding: [0, 0, 18, 0]})
};

const option = {
  animation: false,
  backgroundColor: '#ffffff',
  textStyle: {fontFamily: FONT},
  title: [
    {text: '532 nm : Decay of the e{sub|aq}{sup|−} at 250 °C', left: 465, top: 30, padding: 0, textAlign: 'center',
     textStyle: Object.assign({}, TF, {fontSize: 44, lineHeight: 56, rich: titleRich})},
    {text: '348 nm : Bleach/recovery of Cr(VI) at 225 °C', left: 1352, top: 30, padding: 0, textAlign: 'center',
     textStyle: Object.assign({}, TF, {fontSize: 44, lineHeight: 56})}
  ],
  grid: [
    {left: 125, top: 102, width: 740, height: 595, outerBoundsMode: 'none', containLabel: false},
    {left: 1021, top: 102, width: 740, height: 595, outerBoundsMode: 'none', containLabel: false}
  ],
  xAxis: xAxes,
  yAxis: yAxes,
  legend: [
    {data: leftNames, orient: 'vertical', left: 657, top: 160, padding: 0, itemWidth: 11, itemHeight: 11, itemGap: 9,
     selectedMode: false, textStyle: {color: '#000', fontSize: 26, fontFamily: FONT, lineHeight: 28, padding: [0, 0, 0, 21]}},
    {data: rightNames.map(n => 'R' + n), orient: 'vertical', left: 1564, top: 141, padding: 0, itemWidth: 49, itemHeight: 1.5, itemGap: 9,
     icon: 'rect', selectedMode: false, formatter: n => n.slice(1),
     textStyle: {color: '#000', fontSize: 26, fontFamily: FONT, lineHeight: 28, padding: [0, 0, 0, 4]}}
  ],
  graphic: [
    {type: 'rect', shape: {x: 0, y: 0, width: 13, height: 777}, style: {fill: '#29a8e1'}, silent: true}
  ],
  series: series
};

const chart = echarts.init(document.getElementById('c'), null, {renderer: 'canvas'});
chart.setOption(option);
</script>
</body></html>
